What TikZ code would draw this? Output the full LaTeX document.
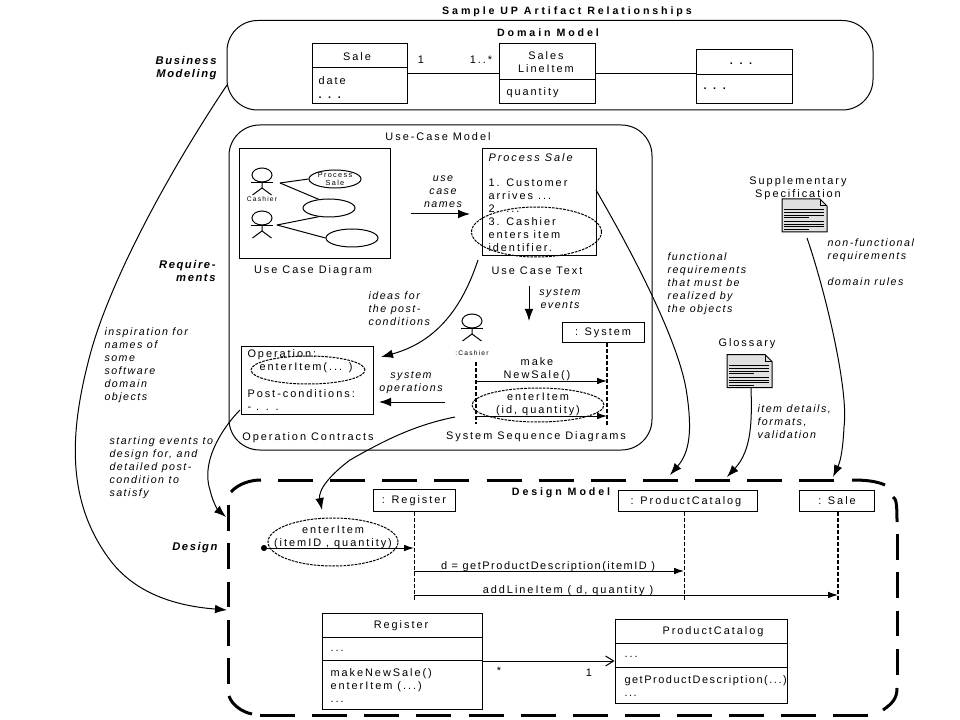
\documentclass[tikz,border=0pt]{standalone}
\usepackage{fontspec}
\setmainfont[LetterSpace=18]{Liberation Sans}
\newfontfamily\notefont[LetterSpace=14]{Liberation Sans}
\newfontfamily\headfont[LetterSpace=27]{Liberation Sans}
\usetikzlibrary{shapes.geometric,arrows.meta,fit}

\tikzset{
  actorfig/.pic={
    \draw (0,0) ellipse [x radius=10,y radius=7];
    \draw (0,7) -- (0,13) -- (-9.5,20);
    \draw (0,13) -- (9.5,20);
    \draw (-11,7.5) -- (11,7.5);
  },
  docicon/.pic={
    \draw[fill=black!12] (0,0) -- (38,0) -- (45,7) -- (45,33) -- (0,33) -- cycle;
    \draw (38,0) -- (38,7) -- (45,7);
    \foreach \ly/\lx in {11/42,14/42,16.5/42,19/27,23/42,25.5/42,28/42,30.5/27}
      \draw (2,\ly) -- (\lx,\ly);
    \coordinate (-foot) at (24,33);
  }
}

\begin{document}
\begin{tikzpicture}
    [x=0.75pt,y=-0.75pt,line width=0.75pt,
txt/.style={inner sep=0pt,yshift=-1pt,font=\fontsize{8.2}{9.75}\selectfont,align=center},
ltxt/.style={txt,anchor=west,align=left},
code/.style={font=\fontsize{8.2}{9.75}\notefont},
note/.style={inner sep=0pt,yshift=-1pt,anchor=west,align=left,font=\fontsize{8}{9.75}\notefont\itshape},
phase/.style={inner sep=0pt,yshift=-1pt,font=\fontsize{8.4}{9.75}\notefont\bfseries\itshape,align=right,anchor=east},
heading/.style={inner sep=0pt,yshift=-1pt,font=\fontsize{8}{9.75}\headfont\bfseries},
tiny/.style={inner sep=0pt,font=\fontsize{5}{6}\selectfont,align=center},
model/.style={draw,inner sep=0pt,rounded corners=23pt},
box/.style={draw,inner sep=0pt},
usecase/.style={draw,ellipse,inner sep=0pt,minimum width=39pt,minimum height=13.5pt},
focus/.style={draw,ellipse,inner sep=0pt,dash pattern=on 2pt off 0.8pt},
flow/.style={-{Latex[length=9pt,width=6.5pt]}},
msg/.style={-{Latex[length=7.5pt,width=5pt]}},
lifeline/.style={line width=1.6pt,dash pattern=on 3pt off 1.5pt},
thinlife/.style={dash pattern=on 3pt off 1.5pt},
frameh/.style={line width=2.25pt,dash pattern=on 26.25pt off 12.85pt},
framev/.style={line width=2.25pt,dash pattern=on 19.2pt off 9.55pt},
framec/.style={line width=2.25pt}
]
\useasboundingbox (0,0) rectangle (960,720);

  \node[heading] (title) at (567,10) {Sample UP Artifact Relationships};

  \node[model,fit={(227,20.5)(873,110)}] (domainModel) {};
  \node[heading] (domainLabel) at (548,31) {Domain Model};
  \node[box,fit={(312,44)(407,104)}] (saleBox) {};
  \draw (saleBox.west|-0,68) -- (saleBox.east|-0,68);
  \node[txt] (saleName) at (357,55) {Sale};
  \node[ltxt] (saleAttr) at (318,86) {date\\[1pt]\textbf{. . .}};
  \node[box,fit={(499,44)(595,104)}] (itemBox) {};
  \draw (itemBox.west|-0,80) -- (itemBox.east|-0,80);
  \node[txt] (itemName) at (546,61) {Sales\\LineItem};
  \node[ltxt] (itemAttr) at (506,91) {quantity};
  \node[box,fit={(696,50)(792,104)}] (otherBox) {};
  \draw (otherBox.west|-0,75) -- (otherBox.east|-0,75);
  \node[txt] (otherName) at (742,62) {\textbf{. . .}};
  \node[ltxt] (otherAttr) at (703,87) {\textbf{. . .}};
  \draw (saleBox) -- (itemBox);
  \draw (itemBox.east) -- (otherBox.west|-itemBox.east);
  \node[txt] (saleMult) at (421,58) {1};
  \node[txt] (itemMult) at (481,58) {1..*};

  \node[model,fit={(229,125)(652,450)}] (useCaseModel) {};
  \node[txt] (useCaseLabel) at (438,135) {Use-Case Model};

  \node[box,fit={(239,149)(390,259)}] (ucDiagram) {};
  \node[txt] (ucDiagramLabel) at (313,269) {Use Case Diagram};
  \pic at (262,175) {actorfig};
  \pic at (262,218) {actorfig};
  \node[tiny] (cashierA) at (262,199) {Cashier};
  \node[usecase] (ucA) at (335,179) {};
  \node[tiny,font=\fontsize{5.5}{6.5}\selectfont] (ucAText) at (335,179) {Process\\Sale};
  \node[usecase] (ucB) at (329,208) {};
  \node[usecase] (ucC) at (352,238) {};
  \coordinate (armA) at (280,183);
  \coordinate (armB) at (277,225);
  \draw (armA) -- (ucA.west);
  \draw (armA) -- (ucB.140);
  \draw (armB) -- (ucB.220);
  \draw (armB) -- (ucC.west);

  \coordinate (namesStart) at (411,214);
  \coordinate (namesEnd) at (470,214);
  \draw[flow] (namesStart) -- (namesEnd);
  \node[note,align=center,anchor=center] (namesNote) at (443,190) {use\\case\\names};

  \node[box,fit={(482,149)(596,256)}] (ucText) {};
  \node[ltxt,font=\fontsize{8.2}{9.75}\selectfont\itshape] (ucTitle) at (488,156) {Process Sale};
  \node[ltxt] (ucSteps) at (488,214) {1. Customer\\arrives ...\\2. ...\\3. Cashier\\enters item\\identifier.};
  \node[focus,minimum width=97.5pt,minimum height=37.5pt] (stepFocus) at (536.5,232) {};
  \node[txt] (ucTextLabel) at (537,269) {Use Case Text};

  \coordinate (eventsStart) at (529,286);
  \coordinate (eventsEnd) at (529,321);
  \draw[flow] (eventsStart) -- (eventsEnd);
  \node[note,align=center,anchor=center] (eventsNote) at (560,297) {system\\events};

  \node[box,fit={(241,346)(373,414)}] (opBox) {};
  \node[ltxt] (opHead) at (247,353) {Operation:};
  \node[txt] (opName) at (306,366) {enterItem(... )};
  \node[focus,minimum width=85.5pt,minimum height=21pt] (opFocus) at (308,370) {};
  \node[ltxt] (opPost) at (247,399) {Post-conditions:\\- . . .};
  \node[txt] (opLabel) at (308,436) {Operation Contracts};

  \coordinate (ideasStart) at (478,260);
  \coordinate (ideasEnd) at (381,357);
  \draw[flow] (ideasStart) .. controls (466,296) and (444,340) .. (ideasEnd);
  \node[note] (ideasNote) at (368,307) {ideas for\\the post-\\conditions};

  \coordinate (opsStart) at (445,402);
  \coordinate (opsEnd) at (379,402);
  \draw[flow] (opsStart) -- (opsEnd);
  \node[note,align=center,anchor=center] (opsNote) at (411,381) {system\\operations};

  \pic at (472,321) {actorfig};
  \node[tiny] (cashierB) at (472,353) {:Cashier};
  \node[box,fit={(562,322)(644,342)}] (systemHead) {};
  \node[txt] (systemName) at (603,331.5) {: System};
  \coordinate (actorTop) at (476,362);
  \coordinate (actorEnd) at (476,424);
  \coordinate (systemEnd) at (607,425);
  \draw[lifeline] (actorTop) -- (actorEnd);
  \draw[lifeline] (systemEnd|-systemHead.south) -- (systemEnd);
  \draw[msg] (actorTop|-0,381) -- (systemEnd|-0,381);
  \node[txt] (makeText) at (537,368) {make\\NewSale()};
  \node[focus,minimum width=99pt,minimum height=25.5pt] (ssdFocus) at (538,405) {};
  \node[txt] (ssdText) at (538,403.5) {enterItem\\(id, quantity)};
  \draw[msg] (actorTop|-0,416) -- (systemEnd|-0,416);
  \node[txt] (ssdLabel) at (536,435) {System Sequence Diagrams};

  \node[inner sep=0pt,fit={(228,480)(897,715)}] (designModel) {};
  \draw[frameh] (278,480) -- (835,480);
  \draw[frameh] (260,715) -- (870,715);
  \draw[framev] (228,505) -- (228,684);
  \draw[framev] (897,534) -- (897,676);
  \draw[framec] (231,492) .. controls (238,484) and (250,480) .. (261,480);
  \draw[framec] (852,480) .. controls (865,480) and (876,481) .. (885,485);
  \draw[framec] (893,497) .. controls (896,499) and (897,502) .. (897,522);
  \draw[framec] (897,688) .. controls (897,698) and (893,703) .. (883,710);
  \draw[framec] (229,696) .. controls (232,705) and (242,712) .. (252,714);
  \node[heading] (designLabel) at (561,491) {Design Model};

  \node[box,fit={(373,489)(455,511)}] (registerHead) {};
  \node[txt] (registerName) at (414,499.5) {: Register};
  \node[box,fit={(618,490)(757,511)}] (catalogHead) {};
  \node[txt] (catalogName) at (686,500) {: ProductCatalog};
  \node[box,fit={(799,490)(874,511)}] (saleHead) {};
  \node[txt] (saleHeadName) at (837,499.5) {: Sale};
  \coordinate (registerEnd) at (414,600);
  \coordinate (catalogEnd) at (684,600);
  \coordinate (saleEnd) at (838,600);
  \draw[thinlife] (registerEnd|-registerHead.south) -- (registerEnd);
  \draw[thinlife] (catalogEnd|-catalogHead.south) -- (catalogEnd);
  \draw[lifeline] (saleEnd|-saleHead.south) -- (saleEnd);

  \node[focus,minimum width=97.5pt,minimum height=36pt] (designFocus) at (333,542) {};
  \node[txt] (designFocusText) at (333,536) {enterItem\\(itemID , quantity)};
  \coordinate (foundStart) at (261,548);
  \draw[{Circle[length=4.5pt]}-{Latex[length=7.5pt,width=5pt]}] (foundStart) -- (registerEnd|-foundStart);
  \draw[msg] (registerEnd|-0,571) -- (catalogEnd|-0,571);
  \node[txt,code] (getText) at (548,565) {d = getProductDescription(itemID )};
  \draw[msg] (registerEnd|-0,595) -- (saleEnd|-0,595);
  \node[txt] (addText) at (568,589) {addLineItem ( d, quantity )};

  \node[box,fit={(322,613)(482,709)}] (registerClass) {};
  \draw (registerClass.west|-0,637) -- (registerClass.east|-0,637);
  \draw (registerClass.west|-0,660) -- (registerClass.east|-0,660);
  \node[txt] (registerTitle) at (401,624) {Register};
  \node[ltxt] (registerAttr) at (330,650) {...};
  \node[ltxt] (registerOps) at (330,684.5) {makeNewSale()\\enterItem (...)\\...};
  \node[box,fit={(615,619)(787,703)}] (catalogClass) {};
  \draw (catalogClass.west|-0,643) -- (catalogClass.east|-0,643);
  \draw (catalogClass.west|-0,667) -- (catalogClass.east|-0,667);
  \node[txt] (catalogTitle) at (713,630) {ProductCatalog};
  \node[ltxt] (catalogAttr) at (624,656) {...};
  \node[ltxt,code] (catalogOps) at (624,684.5) {getProductDescription(...)\\...};
  \draw[-{Straight Barb[length=6pt,width=7.5pt]}] (registerClass.east) -- (catalogClass.west|-registerClass.east);
  \node[txt] (manyMult) at (499,669) {*};
  \node[txt] (oneMult) at (589,671) {1};

  \node[txt] (suppTitle) at (798,187) {Supplementary\\Specification};
  \pic (supp) at (782,199) {docicon};
  \node[note] (suppNote) at (827,249) {non-functional\\requirements};
  \node[note] (rulesNote) at (827,280) {domain rules};
  \node[txt] (glossTitle) at (747,342) {Glossary};
  \pic (gloss) at (727,354.5) {docicon};
  \node[note] (glossNote) at (757,420) {item details,\\formats,\\validation};
  \node[note] (funcNote) at (667,282) {functional\\requirements\\that must be\\realized by\\the objects};
  \node[note] (inspNote) at (104,364) {inspiration for\\names of\\some\\software\\domain\\objects};
  \node[note] (startNote) at (109,466) {starting events to\\design for, and\\detailed post-\\condition to\\satisfy};

  \node[phase] (bizPhase) at (217,67) {Business\\Modeling};
  \node[phase] (reqPhase) at (216,270) {Require-\\ments};
  \node[phase] (designPhase) at (218,546) {Design};

  \coordinate (suppStart) at (807,238);
  \coordinate (suppEnd) at (833,477);
  \coordinate (funcStart) at (596,190);
  \coordinate (funcEnd) at (670,475);
  \coordinate (glossEnd) at (727,477);
  \coordinate (inspStart) at (227,85);
  \coordinate (inspEnd) at (227,610);
  \coordinate (startStart) at (240,410);
  \coordinate (startEnd) at (226,517);
  \coordinate (ssdStart) at (455,417);
  \coordinate (ssdEnd) at (322,510);
  \draw[flow] (suppStart) .. controls (825,290) and (849,390) .. (844,427) .. controls (843,447) and (841,460) .. (suppEnd);
  \draw[flow] (funcStart) .. controls (625,240) and (680,340) .. (687,395) .. controls (692,430) and (690,452) .. (funcEnd);
  \draw[flow] (gloss-foot) .. controls (752,420) and (752,450) .. (glossEnd);
  \draw[flow] (inspStart) .. controls (170,170) and (110,280) .. (90,355) .. controls (70,430) and (65,500) .. (110,560) .. controls (140,600) and (190,607) .. (inspEnd);
  \draw[flow] (startStart) .. controls (225,425) and (200,460) .. (210,490) .. controls (213,503) and (218,510) .. (startEnd);
  \draw[flow] (ssdStart) .. controls (415,425) and (385,440) .. (350,460) .. controls (330,475) and (318,490) .. (ssdEnd);
\end{tikzpicture}
\end{document}
